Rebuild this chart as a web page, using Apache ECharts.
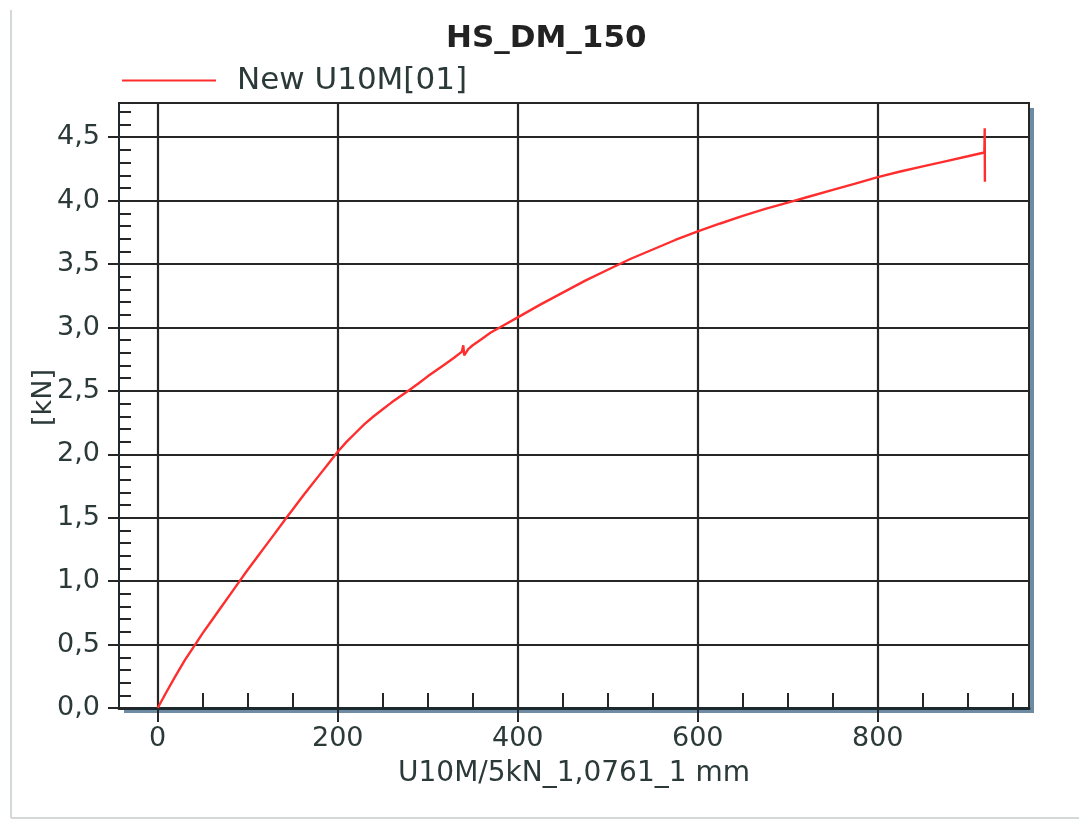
<!DOCTYPE html>
<html>
<head>
<meta charset="utf-8">
<title>HS_DM_150</title>
<script src="https://cdn.jsdelivr.net/npm/echarts@6/dist/echarts.min.js"></script>
<style>
  html, body { margin: 0; padding: 0; background: #fff; }
  #chart { width: 1079px; height: 820px; }
</style>
</head>
<body>
<div id="chart"></div>
<script>
// Weg [mm] und Kraft [kN]
var travel = [0, 10, 20, 30, 41.6, 50, 60, 70, 80, 91, 100, 110, 120, 130, 143, 150, 160, 170, 180, 190, 200,
  210, 220, 230, 240, 250, 260, 270, 280, 290, 300, 310, 320, 330, 338, 339.5, 340.5, 345, 350, 360, 370, 380,
  400, 425, 450, 475, 500, 525, 550, 575, 600, 625, 650, 675, 700, 725, 750, 775, 800, 825, 850, 875, 900,
  918.4, 918.8, 919];
var force = [0, 0.13, 0.255, 0.375, 0.5, 0.59, 0.69, 0.79, 0.89, 1.0, 1.09, 1.185, 1.28, 1.375, 1.5, 1.565, 1.66, 1.75, 1.84, 1.93, 2.02,
  2.1, 2.17, 2.24, 2.3, 2.355, 2.41, 2.46, 2.51, 2.56, 2.615, 2.665, 2.715, 2.765, 2.81, 2.86, 2.78, 2.83, 2.86, 2.91, 2.96, 3.0,
  3.08, 3.18, 3.275, 3.37, 3.455, 3.54, 3.615, 3.69, 3.757, 3.82, 3.88, 3.935, 3.985, 4.035, 4.085, 4.135, 4.185, 4.23, 4.27, 4.31, 4.35,
  4.38, 4.57, 4.15];

// Achsen-Ticks
var xMajorTicks = [0, 200, 400, 600, 800];
var xMinorTicks = [50, 100, 150, 250, 300, 350, 450, 500, 550, 650, 700, 750, 850, 900, 950];
var yMajorTicks = [0, 0.5, 1, 1.5, 2, 2.5, 3, 3.5, 4, 4.5];

var seriesName = 'New U10M[01]';
var chartTitle = 'HS_DM_150';
var xName = 'U10M/5kN_1,0761_1 mm';
var yName = '[kN]';

var font = 'DejaVu Sans';
var textColor = '#2b3938';
var gridColor = '#262626';

var myChart = echarts.init(document.getElementById('chart'));

var option = {
  animation: false,
  backgroundColor: '#fff',
  title: {
    text: chartTitle,
    left: 446,
    top: 23,
    padding: 0,
    textStyle: { fontFamily: font, fontWeight: 'bold', fontSize: 31, color: '#222' }
  },
  legend: {
    data: [seriesName],
    left: 122,
    top: 65,
    padding: 0,
    icon: 'rect',
    itemWidth: 94,
    itemHeight: 2,
    textStyle: { fontFamily: font, fontSize: 31, color: textColor, padding: [0, 0, 0, 16] }
  },
  grid: {
    left: 119,
    right: 50,
    top: 103,
    bottom: 112,
    show: true,
    backgroundColor: '#fff',
    borderColor: gridColor,
    borderWidth: 2
  },
  graphic: [
    // Rahmen der Seite
    { type: 'line', z: -20, shape: { x1: 11, y1: 10, x2: 11, y2: 818 }, style: { stroke: '#d3d8d8', lineWidth: 2 } },
    { type: 'line', z: -20, shape: { x1: 11, y1: 818, x2: 1079, y2: 818 }, style: { stroke: '#d3d8d8', lineWidth: 2 } },
    // Schatten unten/rechts hinter dem Diagramm
    { type: 'rect', z: -10, shape: { x: 124, y: 108, width: 910, height: 605 }, style: { fill: '#6d8ca3' } }
  ],
  xAxis: [
    {
      type: 'value',
      min: -43,
      max: 968,
      name: xName,
      nameLocation: 'middle',
      nameGap: 52,
      nameMoveOverlap: false,
      nameTextStyle: { fontFamily: font, fontSize: 28, color: textColor },
      axisLine: { show: true, onZero: false, lineStyle: { color: '#1c2a30', width: 3 } },
      axisTick: { show: true, customValues: xMajorTicks, length: 14, lineStyle: { color: gridColor, width: 2 } },
      axisLabel: { customValues: xMajorTicks, margin: 17, fontFamily: font, fontSize: 27, color: textColor },
      splitLine: { show: true, lineStyle: { color: gridColor, width: 2.2 } }
    },
    {
      // Zwischenstriche alle 50
      type: 'value',
      min: -43,
      max: 968,
      position: 'bottom',
      axisLine: { show: false, onZero: false },
      axisTick: { show: true, inside: true, customValues: xMinorTicks, length: 15, lineStyle: { color: gridColor, width: 2 } },
      axisLabel: { show: false },
      splitLine: { show: false }
    }
  ],
  yAxis: [
    {
      type: 'value',
      min: 0,
      max: 4.77,
      interval: 0.5,
      name: yName,
      nameLocation: 'middle',
      nameGap: 62,
      nameMoveOverlap: false,
      nameTextStyle: { fontFamily: font, fontSize: 27, color: textColor, padding: [0, 0, 0, 16] },
      axisLine: { show: true, onZero: false, lineStyle: { color: '#1c2a30', width: 2 } },
      axisTick: { show: true, customValues: yMajorTicks, length: 11, lineStyle: { color: gridColor, width: 2 } },
      axisLabel: {
        customValues: yMajorTicks,
        margin: 19,
        fontFamily: font,
        fontSize: 27,
        color: textColor,
        formatter: function (v) { return v.toFixed(1).replace('.', ','); }
      },
      splitLine: { show: true, lineStyle: { color: gridColor, width: 2.2 } }
    },
    {
      // Zwischenstriche alle 0,1
      type: 'value',
      min: 0,
      max: 4.77,
      interval: 0.1,
      position: 'left',
      axisLine: { show: false, onZero: false },
      axisTick: { show: true, inside: true, length: 12, lineStyle: { color: gridColor, width: 2 } },
      axisLabel: { show: false },
      splitLine: { show: false }
    }
  ],
  series: [
    {
      name: seriesName,
      type: 'line',
      xAxisIndex: 0,
      yAxisIndex: 0,
      symbol: 'none',
      color: '#ff2e2e',
      lineStyle: { color: '#ff2e2e', width: 2.4 },
      data: travel.map(function (x, i) { return [x, force[i]]; })
    }
  ]
};

myChart.clear();
myChart.setOption(option);
</script>
</body>
</html>
